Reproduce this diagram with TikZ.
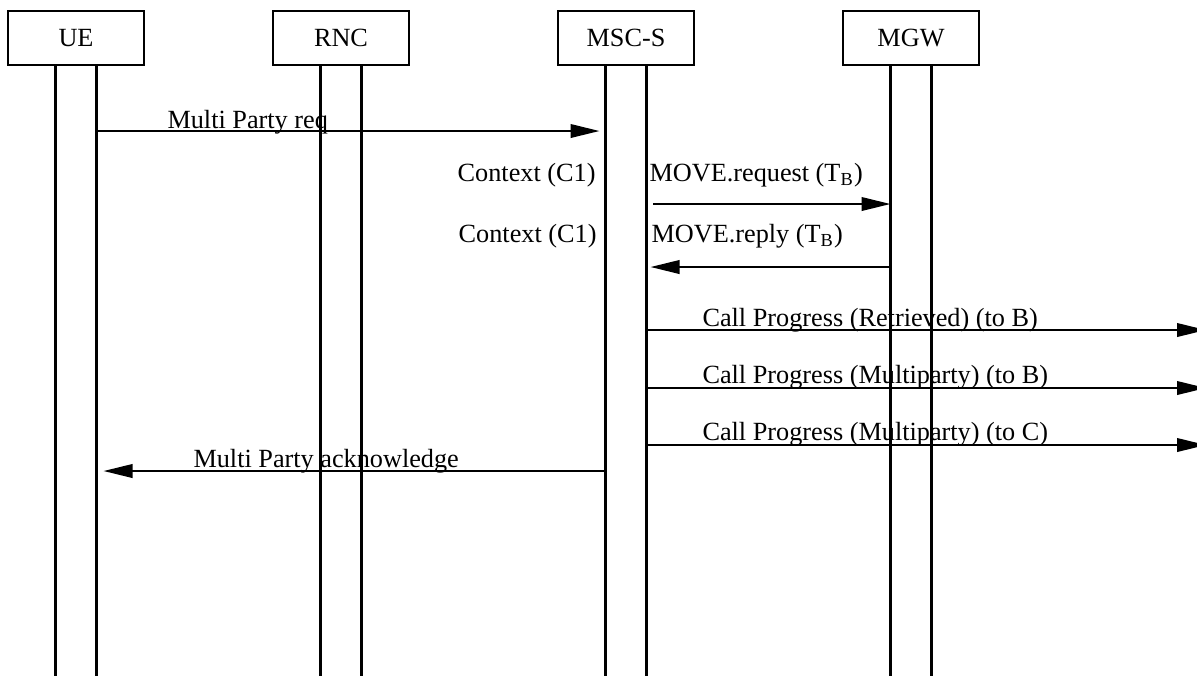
\documentclass[tikz,border=0pt]{standalone}
\usepackage{fontspec}
\setmainfont{Liberation Serif}
\usetikzlibrary{arrows.meta,positioning,calc}

\begin{document}
\begin{tikzpicture}[
    x=0.4pt, y=-0.4pt,
    font=\fontsize{10.5}{12.6}\selectfont,
    entity/.style={draw, line width=0.85pt, minimum width=54.4pt, minimum height=21.6pt, inner sep=0pt, outer sep=0pt},
    life/.style={line width=0.85pt},
    msg/.style={-{Triangle[length=11.6pt, width=5.4pt]}, line width=0.85pt},
    lbl/.style={inner sep=0pt}
]
\useasboundingbox (0,0) rectangle (1197,676);

% entities
\node[entity] (ue) at (76,38) {UE};
\node[entity, right=51.6pt of ue] (rnc) {RNC};
\node[entity, right=59.6pt of rnc] (msc) {MSC-S};
\node[entity, right=59.6pt of msc] (mgw) {MGW};

% lifelines
\coordinate (bot) at (0,676);
\foreach \e in {ue,rnc,msc,mgw} {
  \coordinate (\e L) at ($(\e.south)+(-20.5,0)$);
  \coordinate (\e R) at ($(\e.south)+(20.5,0)$);
  \draw[life] (\e L) -- (\e L |- bot);
  \draw[life] (\e R) -- (\e R |- bot);
}
\coordinate (edge) at (1206,0);

% message rows
\coordinate (r1) at (0,131);
\coordinate (r2) at (0,204);
\coordinate (r3) at (0,267);
\coordinate (r4) at (0,330);
\coordinate (r5) at (0,388);
\coordinate (r6) at (0,445);
\coordinate (r7) at (0,471);

\draw[msg, shorten >=2.4pt] (ueR |- r1) -- (mscL |- r1);
\node[lbl, anchor=base west] (l1) at (167,128) {Multi Party req};

\node[lbl, anchor=base east] (c1) at (596,181) {Context (C1)};
\node[lbl, anchor=base west] (l2) at (649,181) {MOVE.request (T\textsubscript{B})};
\draw[msg, shorten <=2.6pt] (mscR |- r2) -- (mgwL |- r2);

\node[lbl, anchor=base east] (c2) at (597,242) {Context (C1)};
\node[lbl, anchor=base west] (l3) at (651,242) {MOVE.reply (T\textsubscript{B})};
\draw[msg, shorten >=1.6pt] (mgwL |- r3) -- (mscR |- r3);

\draw[msg] (mscR |- r4) -- (edge |- r4);
\node[lbl, anchor=base west] (l4) at (702,326) {Call Progress (Retrieved) (to B)};
\draw[msg] (mscR |- r5) -- (edge |- r5);
\node[lbl, anchor=base west] (l5) at (702,383) {Call Progress (Multiparty) (to B)};
\draw[msg] (mscR |- r6) -- (edge |- r6);
\node[lbl, anchor=base west] (l6) at (702,440) {Call Progress (Multiparty) (to C)};

\draw[msg, shorten >=2.8pt] (mscL |- r7) -- (ueR |- r7);
\node[lbl, anchor=base west] (l7) at (193,467) {Multi Party acknowledge};
\end{tikzpicture}
\end{document}
